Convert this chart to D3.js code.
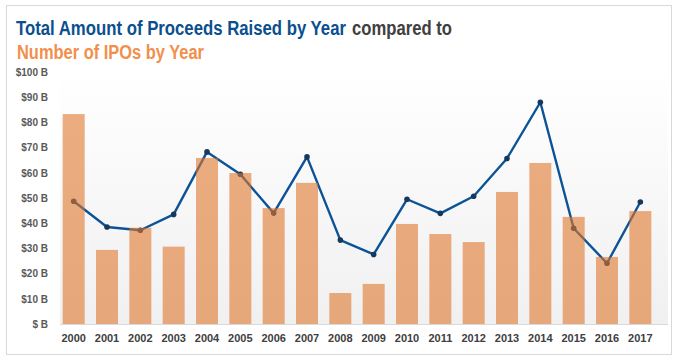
<!DOCTYPE html>
<html>
<head>
<meta charset="utf-8">
<script src="https://cdn.jsdelivr.net/npm/d3@7"></script>
<style>
  body { margin: 0; background: #fff; }
  text { font-family: "Liberation Sans", Arial, sans-serif; }
</style>
</head>
<body>
<div id="chart"></div>
<script>
var years = ["2000", "2001", "2002", "2003", "2004", "2005", "2006", "2007", "2008",
    "2009", "2010", "2011", "2012", "2013", "2014", "2015", "2016", "2017"];
// bars: number of IPOs (drawn against the same axis)
var ipoCount = [83.3, 29.4, 38.2, 30.7, 65.9, 59.9, 46.0, 56.0, 12.3,
    15.9, 39.7, 35.7, 32.5, 52.4, 63.9, 42.5, 26.6, 44.8];
// line: proceeds raised, $ billions
var proceeds = [48.7, 38.5, 37.2, 43.5, 68.3, 59.4, 44.0, 66.3, 33.3,
    27.6, 49.5, 43.9, 50.7, 65.7, 88.0, 38.0, 24.1, 48.4];
var yTicks = [0, 10, 20, 30, 40, 50, 60, 70, 80, 90, 100];

var width = 678, height = 362;
var margin = { top: 72, right: 10, bottom: 38, left: 57 };
var plotW = width - margin.left - margin.right,
    plotH = height - margin.top - margin.bottom;

var svg = d3.select("#chart")
    .append("svg")
    .attr("width", width)
    .attr("height", height);

// outer frame
svg.append("rect")
    .attr("x", 6.5).attr("y", 5.5)
    .attr("width", 665).attr("height", 349)
    .attr("fill", "#fff")
    .attr("stroke", "#d9d9d9");

var defs = svg.append("defs");
var grad = defs.append("linearGradient")
    .attr("id", "bg").attr("x1", 0).attr("y1", 0).attr("x2", 0).attr("y2", 1);
grad.append("stop").attr("offset", "0%").attr("stop-color", "#ffffff");
grad.append("stop").attr("offset", "100%").attr("stop-color", "#f0f0f0");

// title: narrow-ish look by stretching a smaller font vertically
function titleText(str, tx, ty, len, color) {
    svg.append("text")
        .attr("transform", "translate(" + tx + "," + ty + ") scale(1,1.2)")
        .attr("font-size", "16.5px")
        .attr("font-weight", "bold")
        .attr("fill", color)
        .attr("textLength", len)
        .attr("lengthAdjust", "spacingAndGlyphs")
        .text(str);
}
titleText("Total Amount of Proceeds Raised by Year", 16, 35, 330, "#0b4f8e");
titleText("compared to", 352, 35, 100, "#404040");
titleText("Number of IPOs by Year", 17, 59, 187, "#f0904c");

var g = svg.append("g")
    .attr("transform", "translate(" + margin.left + "," + margin.top + ")");

var x = d3.scaleBand()
    .domain(years)
    .range([0, 600])
    .paddingInner(0.34)
    .paddingOuter(0.17);

var y = d3.scaleLinear()
    .domain([0, 100])
    .range([plotH, 0]);

g.append("rect")
    .attr("x", 3).attr("y", 0)
    .attr("width", 608).attr("height", y(0))
    .attr("fill", "url(#bg)");

// y axis labels
var yAxis = g.append("g")
    .call(d3.axisLeft(y).tickValues(yTicks).tickSize(0).tickPadding(9)
        .tickFormat(function (d) { return d === 0 ? "$ B" : "$" + d + " B"; }));
yAxis.select(".domain").remove();
yAxis.selectAll("text")
    .attr("fill", "#595959")
    .attr("font-size", "10px")
    .attr("font-weight", "bold")
    .style("font-family", "'Liberation Sans', Arial, sans-serif");

// line (sits behind the bars)
var line = d3.line()
    .x(function (d, i) { return x(years[i]) + x.bandwidth() / 2; })
    .y(function (d) { return y(d); });

g.append("path")
    .datum(proceeds)
    .attr("fill", "none")
    .attr("stroke", "#0b5396")
    .attr("stroke-width", 2.4)
    .attr("stroke-linejoin", "round")
    .attr("d", line);

g.selectAll(".dot")
    .data(proceeds)
    .enter().append("circle")
    .attr("cx", function (d, i) { return x(years[i]) + x.bandwidth() / 2; })
    .attr("cy", function (d) { return y(d); })
    .attr("r", 2.8)
    .attr("fill", "#17385c");

g.selectAll(".bar")
    .data(ipoCount)
    .enter().append("rect")
    .attr("x", function (d, i) { return x(years[i]); })
    .attr("y", function (d) { return y(d); })
    .attr("width", x.bandwidth())
    .attr("height", function (d) { return y(0) - y(d); })
    .attr("fill", "#e0762c")
    .attr("fill-opacity", 0.6);

// x axis
var xAxis = g.append("g")
    .attr("transform", "translate(0," + y(0) + ")")
    .call(d3.axisBottom(x).tickSize(0).tickPadding(10));
xAxis.select(".domain")
    .attr("stroke", "#d9d9d9")
    .attr("d", "M3,0.5H611");
xAxis.selectAll("text")
    .attr("fill", "#404040")
    .attr("font-size", "11px")
    .attr("font-weight", "bold")
    .style("font-family", "'Liberation Sans', Arial, sans-serif");
</script>
</body>
</html>
